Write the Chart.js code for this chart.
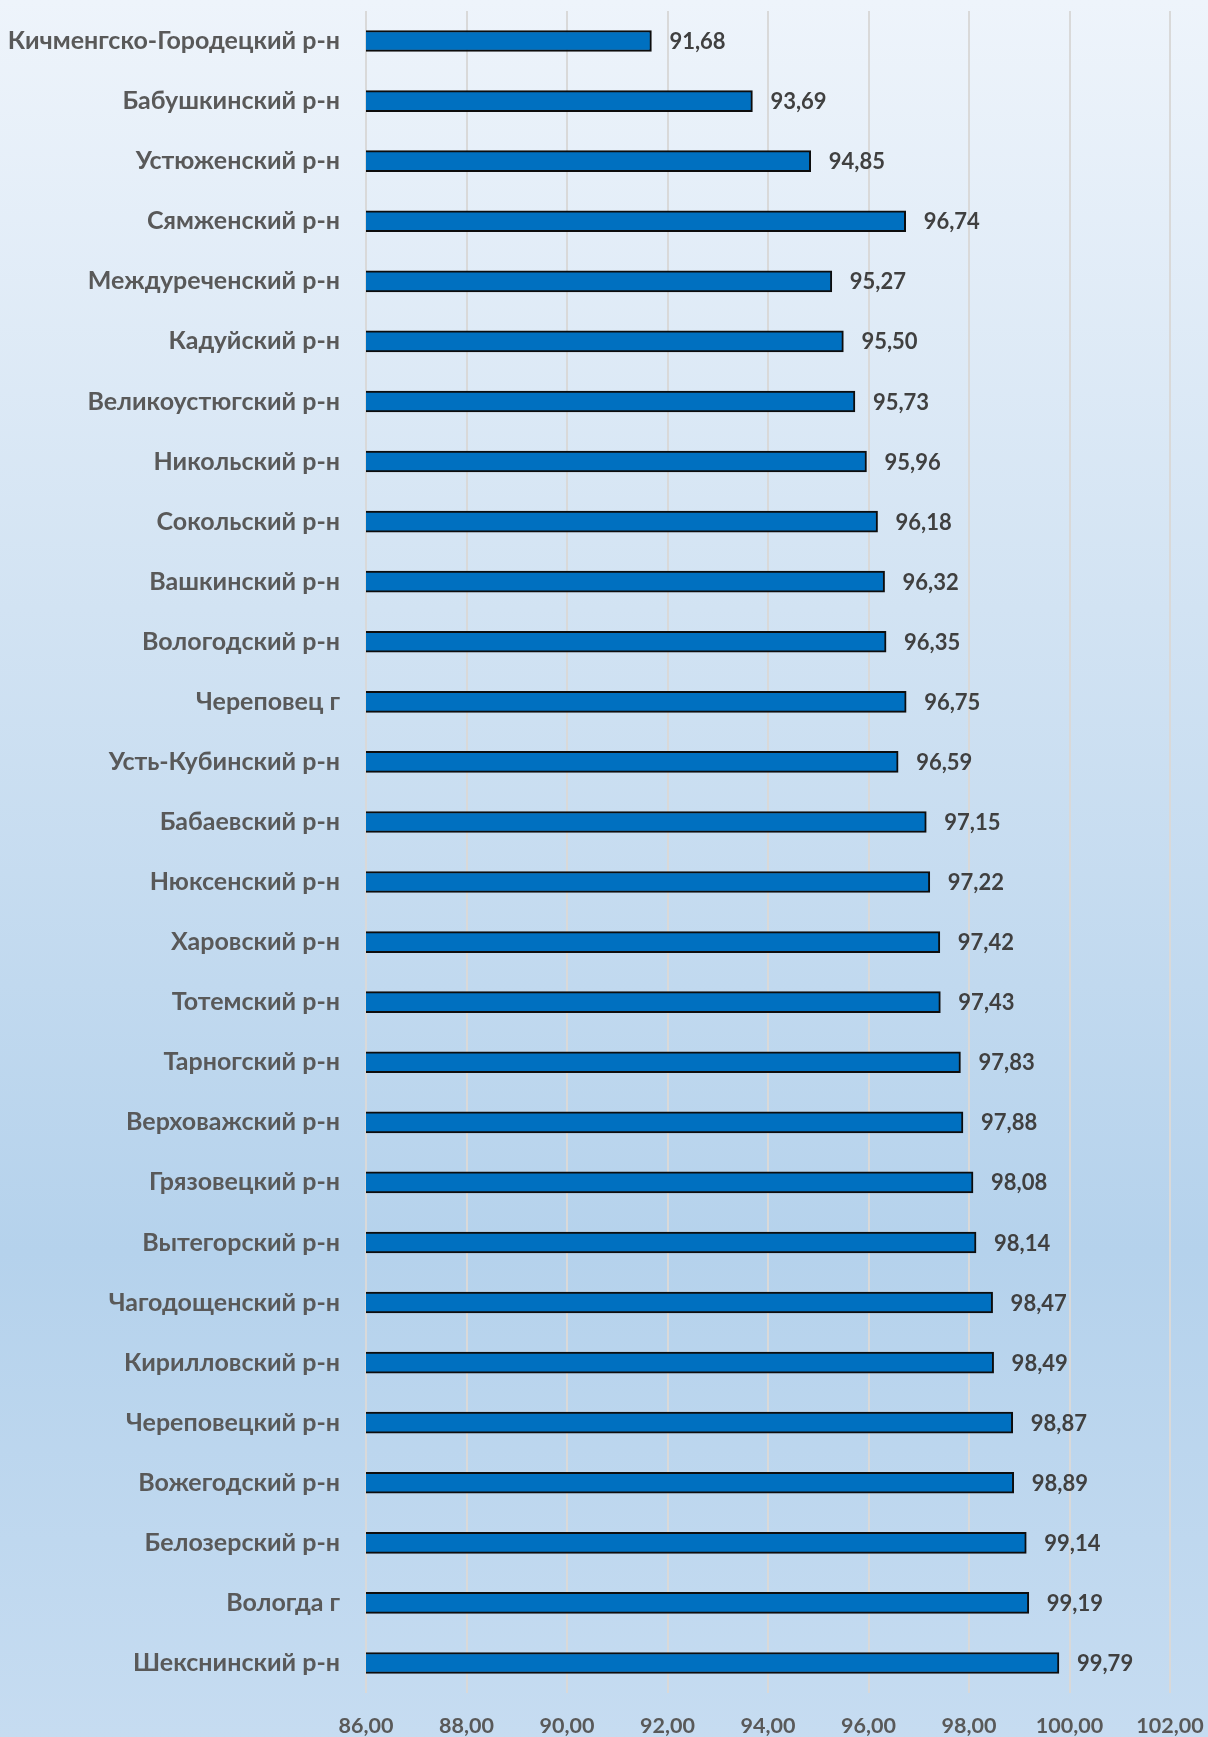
<!DOCTYPE html>
<html lang="ru">
<head>
<meta charset="UTF-8">
<title>Районы</title>
<script src="https://cdn.jsdelivr.net/npm/chart.js@4.4.1/dist/chart.umd.min.js"></script>
<style>
    body { margin: 0; }
    #wrap { width: 1208px; height: 1737px; position: relative; }
</style>
</head>
<body>
<div id="wrap"><canvas id="barChart"></canvas></div>
<script>
const districts = [
    "Кичменгско-Городецкий р-н", "Бабушкинский р-н", "Устюженский р-н", "Сямженский р-н",
    "Междуреченский р-н", "Кадуйский р-н", "Великоустюгский р-н", "Никольский р-н",
    "Сокольский р-н", "Вашкинский р-н", "Вологодский р-н", "Череповец г",
    "Усть-Кубинский р-н", "Бабаевский р-н", "Нюксенский р-н", "Харовский р-н",
    "Тотемский р-н", "Тарногский р-н", "Верховажский р-н", "Грязовецкий р-н",
    "Вытегорский р-н", "Чагодощенский р-н", "Кирилловский р-н", "Череповецкий р-н",
    "Вожегодский р-н", "Белозерский р-н", "Вологда г", "Шекснинский р-н"
];
const values = [
    91.68, 93.69, 94.85, 96.74,
    95.27, 95.50, 95.73, 95.96,
    96.18, 96.32, 96.35, 96.75,
    96.59, 97.15, 97.22, 97.42,
    97.43, 97.83, 97.88, 98.08,
    98.14, 98.47, 98.49, 98.87,
    98.89, 99.14, 99.19, 99.79
];
const axisMin = 86;
const axisMax = 102;
const axisStep = 2;

const FONT = "Lato, 'Open Sans', sans-serif";

function fmt(v) {
    return v.toFixed(2).replace(".", ",");
}

// keep the plot area where layout.padding says (no extra room for labels)
function noPadding(scale) {
    scale.paddingTop = 0;
    scale.paddingBottom = 0;
    scale.paddingLeft = 0;
    scale.paddingRight = 0;
}

// light blue gradient behind the whole picture
const backgroundPlugin = {
    id: "bg",
    beforeDraw(chart) {
        const ctx = chart.ctx;
        const g = ctx.createLinearGradient(0, 0, 0, chart.height);
        g.addColorStop(0, "#EEF4FB");
        g.addColorStop(0.35, "#D2E3F3");
        g.addColorStop(0.72, "#B5D2EC");
        g.addColorStop(1, "#C6DCF1");
        ctx.save();
        ctx.fillStyle = g;
        ctx.fillRect(0, 0, chart.width, chart.height);
        ctx.restore();
    }
};

// value written just past the end of each bar
const valueLabels = {
    id: "valueLabels",
    afterDatasetsDraw(chart) {
        const ctx = chart.ctx;
        const meta = chart.getDatasetMeta(0);
        ctx.save();
        ctx.font = "bold 22px " + FONT;
        ctx.fillStyle = "#404040";
        ctx.textAlign = "left";
        ctx.textBaseline = "middle";
        meta.data.forEach((bar, i) => {
            ctx.fillText(fmt(values[i]), bar.x + 18, bar.y + 1);
        });
        ctx.restore();
    }
};

function generateChart() {
    const ctx = document.getElementById("barChart").getContext("2d");

    new Chart(ctx, {
        type: "bar",
        data: {
            labels: districts,
            datasets: [{
                data: values,
                backgroundColor: "#0070C0",
                borderColor: "#0D0D0D",
                borderWidth: 2,
                borderSkipped: "start",
                barThickness: 21
            }]
        },
        options: {
            indexAxis: "y",
            responsive: true,
            maintainAspectRatio: false,
            animation: false,
            layout: { padding: { top: 11, right: 38, bottom: 0, left: 0 } },
            plugins: {
                legend: { display: false },
                tooltip: { enabled: false }
            },
            scales: {
                x: {
                    min: axisMin,
                    max: axisMax,
                    afterFit: scale => { scale.height = 44; noPadding(scale); },
                    afterBuildTicks: scale => {
                        const ticks = [];
                        for (let v = axisMin; v <= axisMax; v += axisStep) ticks.push({ value: v });
                        scale.ticks = ticks;
                    },
                    grid: { color: "#D9D9D9", lineWidth: 2, drawTicks: false },
                    border: { display: false },
                    ticks: {
                        padding: 20,
                        color: "#595959",
                        font: { family: FONT, size: 21.5, weight: "bold" },
                        callback: v => fmt(v)
                    }
                },
                y: {
                    afterFit: scale => { scale.width = 366; noPadding(scale); },
                    grid: { display: false, drawTicks: false },
                    border: { display: false },
                    ticks: {
                        padding: 26,
                        color: "#595959",
                        font: { family: FONT, size: 25, weight: "bold" }
                    }
                }
            }
        },
        plugins: [backgroundPlugin, valueLabels]
    });
}

document.addEventListener("DOMContentLoaded", generateChart);
</script>
</body>
</html>
